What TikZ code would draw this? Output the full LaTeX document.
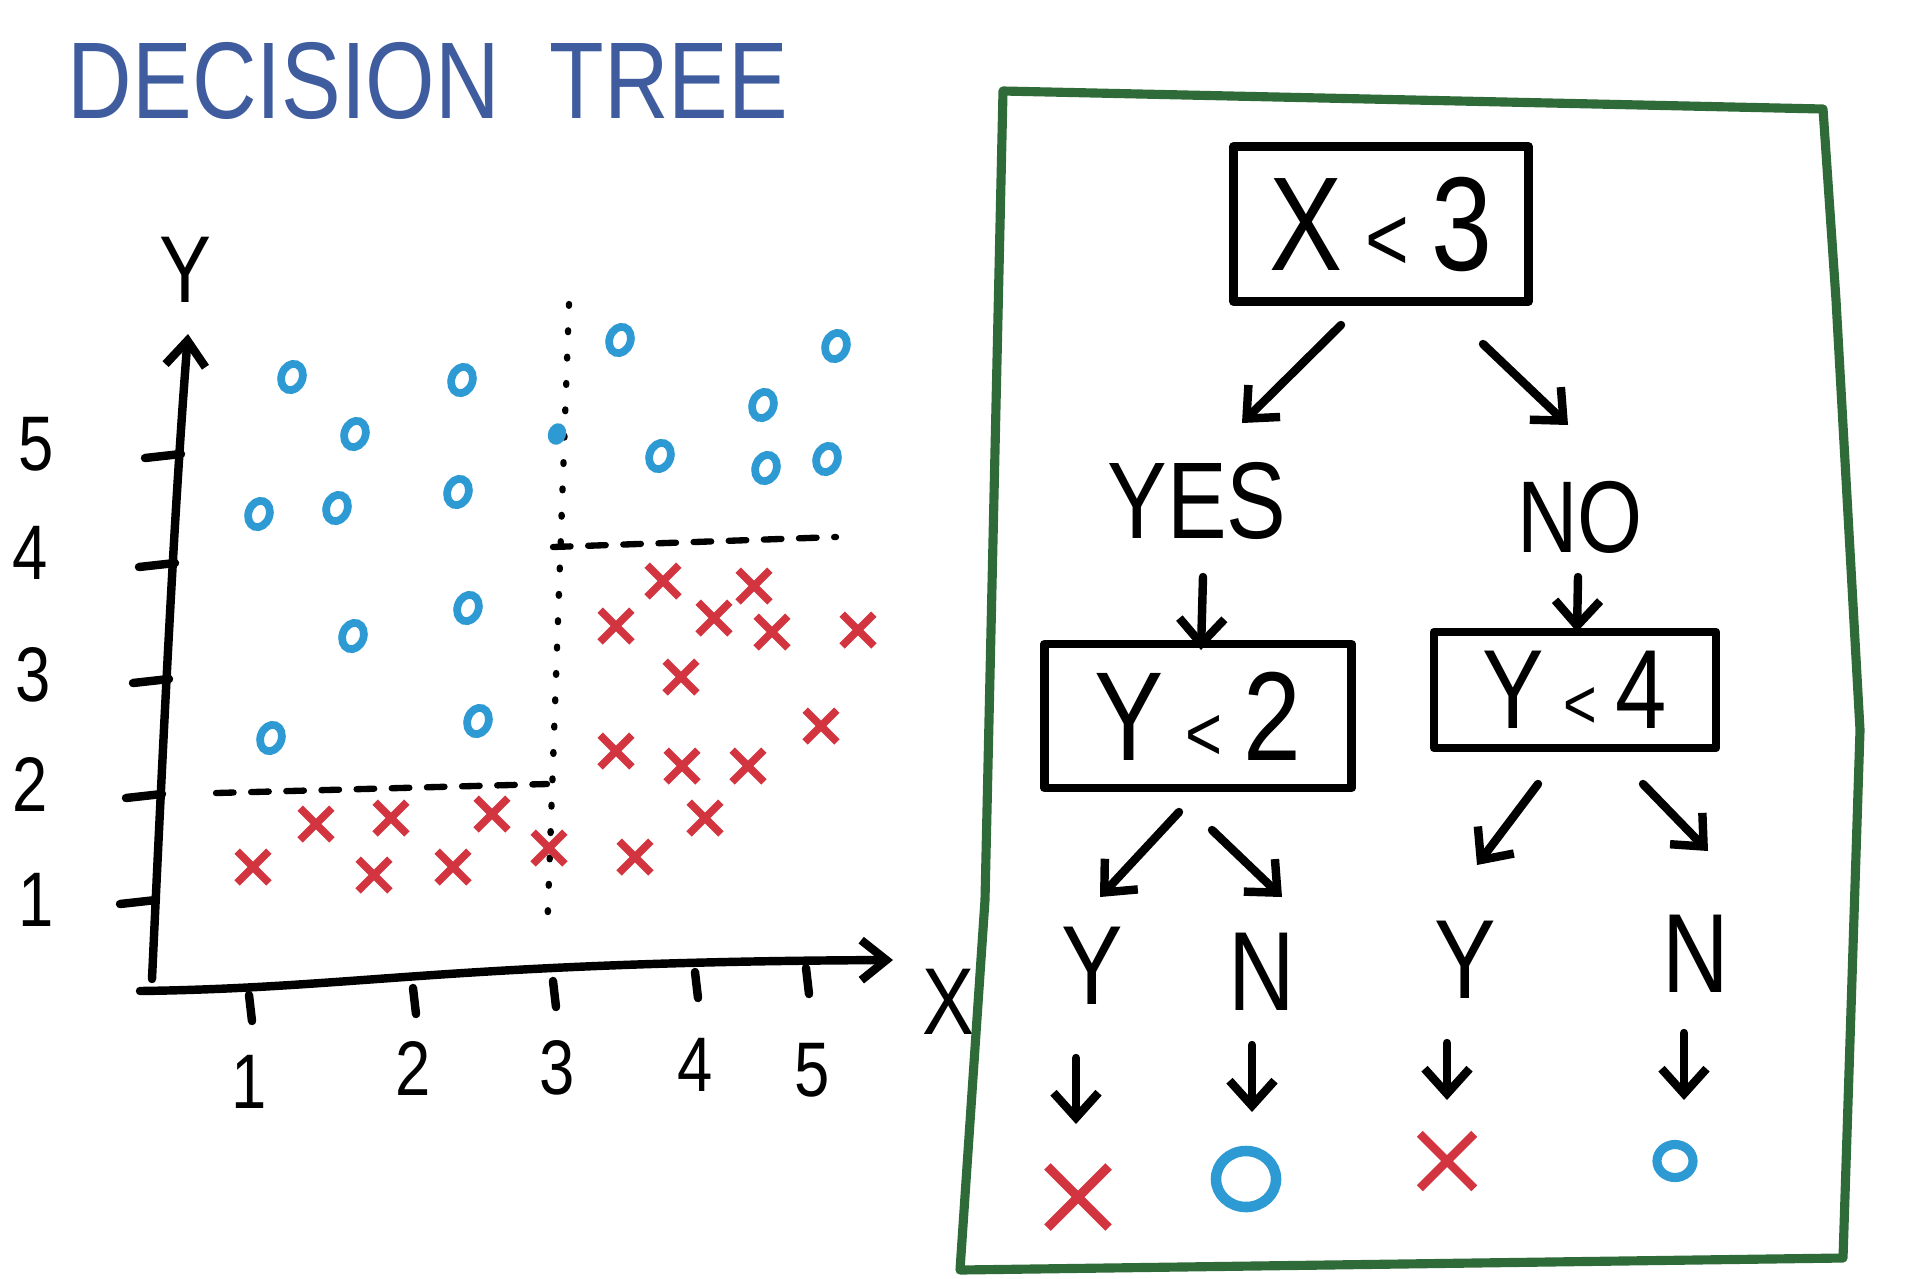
\documentclass[tikz,border=0pt]{standalone}
\usepackage{fontspec}
\setmainfont{Liberation Sans}[FakeStretch=0.82]
\usetikzlibrary{arrows.meta,positioning,calc,shapes.geometric,shapes.misc}
\definecolor{titleblue}{HTML}{3E5C9E}
\definecolor{oblue}{HTML}{2E9AD4}
\definecolor{xred}{HTML}{D23540}
\definecolor{framegreen}{HTML}{2F6B38}
\tikzset{%
  pen/.style={line width=2.4pt, line cap=round, line join=round},
  arrow/.style={pen, -{Straight Barb[length=2.5mm,width=4.5mm]}}%
}

\begin{document}
\begin{tikzpicture}[
    x=0.01cm, y=-0.01cm,
    ptO/.style={
        ellipse,
        draw=oblue,
        line width=2.2pt,
        minimum width=0.21cm,
        minimum height=0.27cm,
        inner sep=0pt,
        rotate=-20
    },
    ptX/.style={
        cross out,
        draw=xred,
        line width=2.2pt,
        minimum size=0.24cm,
        inner sep=0pt
    },
    testbox/.style={
        draw,
        pen,
        align=center,
        inner sep=0pt
    },
    word/.style={font=\fontsize{32}{32}\selectfont, inner sep=0pt},
    ticklabel/.style={font=\fontsize{22}{22}\selectfont, inner sep=0pt},
    cut/.style={line width=1.8pt, line cap=round}
]
\useasboundingbox (0,0) rectangle (1906,1278);

% Title
\node[text=titleblue, font=\fontsize{31}{31}\selectfont] (title) at (428,81) {DECISION \ TREE};

% Axes of the scatter plot
\draw[pen, -{Straight Barb[length=2.5mm,width=4mm]}] (152,979) .. controls (165,700) and (175,500) .. (188,334);
\draw[pen, -{Straight Barb[length=2.5mm,width=4mm]}] (140,991) .. controls (360,988) and (450,962) .. (893,960);
\node[font=\fontsize{27}{27}\selectfont] (ylabel) at (185,270) {Y};
\node[font=\fontsize{27}{27}\selectfont] (xlabel) at (948,1002) {X};

% Ticks and their labels
\foreach \ty/\tx/\v in {902/156/1, 796/162/2, 681/169/3, 565/175/4, 456/181/5}
  \draw[pen] (\tx-36,\ty+2) -- (\tx,\ty-2);
\foreach \tx/\ty/\v in {249/989/1, 413/982/2, 553/975/3, 695/966/4, 806/962/5}
  \draw[pen] (\tx,\ty+6) -- (\tx+3,\ty+32);
\node[ticklabel] (y1) at (36,900) {1};
\node[ticklabel] (y2) at (30,784) {2};
\node[ticklabel] (y3) at (33,675) {3};
\node[ticklabel] (y4) at (30,553) {4};
\node[ticklabel] (y5) at (36,444) {5};
\node[ticklabel] (x1) at (249,1082) {1};
\node[ticklabel] (x2) at (413,1068) {2};
\node[ticklabel] (x3) at (557,1068) {3};
\node[ticklabel] (x4) at (695,1065) {4};
\node[ticklabel] (x5) at (812,1070) {5};

% Split lines
\draw[cut, dash pattern=on 0.5pt off 7pt] (569,304) -- (547,936);
\draw[cut, dash pattern=on 5pt off 5pt] (553,547) -- (836,537);
\draw[cut, dash pattern=on 5pt off 5pt] (216,793) -- (547,784);

% Data: circles
\foreach \px/\py [count=\i] in {292/377, 462/380, 355/434, 259/514, 337/508, 458/492,
    353/636, 468/608, 271/738, 478/721, 620/340, 836/346, 763/405, 660/456,
    766/468, 827/459}
  \node[ptO] (o\i) at (\px,\py) {};
\node[ptO, minimum width=0.1cm, minimum height=0.14cm, fill=oblue] (o17) at (557,434) {};

% Data: crosses
\foreach \px/\py [count=\i] in {663/581, 754/586, 616/626, 714/618, 772/632, 858/630,
    681/677, 821/726, 616/751, 682/766, 748/766, 705/818, 635/857, 549/848,
    492/814, 391/818, 316/824, 253/867, 374/875, 453/867}
  \node[ptX] (x\i) at (\px,\py) {};

% Frame round the tree
\draw[framegreen, line width=2.6pt, line join=round]
  (1003,91) -- (1823,109) -- (1836,300) -- (1860,730) -- (1843,1258)
  -- (960,1270) -- (985,900) -- (1003,91) -- cycle;

% Tree nodes
\node[testbox, minimum width=2.95cm, minimum height=1.55cm,
      font=\fontsize{38}{38}\selectfont] (root) at (1381,224)
      {X\,{\fontsize{26}{26}\selectfont<}\,3};
\node[word, font=\fontsize{31}{31}\selectfont] (yes) at (1197,501) {YES};
\node[word, font=\fontsize{29}{29}\selectfont] (no) at (1580,517) {NO};
\node[testbox, minimum width=3.07cm, minimum height=1.44cm,
      font=\fontsize{36}{36}\selectfont] (ylt2) at (1198,716)
      {Y\,{\fontsize{22}{22}\selectfont<}\,2};
\node[testbox, minimum width=2.82cm, minimum height=1.16cm,
      font=\fontsize{32}{32}\selectfont] (ylt4) at (1575,690)
      {Y\,{\fontsize{20}{20}\selectfont<}\,4};
\node[word] (yy) at (1092,966) {Y};
\node[word] (yn) at (1262,972) {N};
\node[word] (ny) at (1465,960) {Y};
\node[word] (nn) at (1696,954) {N};

% Leaves
\node[ptX, minimum size=0.52cm, line width=2.6pt] (leafyy) at (1078,1197) {};
\node[ptO, minimum width=0.6cm, minimum height=0.56cm, line width=3pt, rotate=20] (leafyn) at (1246,1179) {};
\node[ptX, minimum size=0.46cm, line width=2.4pt] (leafny) at (1447,1161) {};
\node[ptO, minimum width=0.36cm, minimum height=0.33cm, line width=2.6pt, rotate=20] (leafnn) at (1675,1161) {};

% Arrows
\draw[arrow] ($(root)+(-40,101)$) -- ($(yes)+(45,-78)$);
\draw[arrow] ($(root)+(102,120)$) -- ($(no)+(-12,-92)$);
\draw[arrow] ($(yes)+(6,76)$) -- ($(ylt2)+(3,-66)$);
\draw[arrow] ($(no)+(-2,60)$) -- ($(ylt4)+(2,-58)$);
\draw[arrow] ($(ylt2)+(-19,96)$) -- ($(yy)+(8,-69)$);
\draw[arrow] ($(ylt2)+(14,114)$) -- ($(yn)+(20,-75)$);
\draw[arrow] ($(ylt4)+(-37,94)$) -- ($(ny)+(12,-95)$);
\draw[arrow] ($(ylt4)+(68,94)$) -- ($(nn)+(12,-103)$);
\draw[arrow] ($(yy)+(-16,92)$) -- ($(leafyy)+(-2,-73)$);
\draw[arrow] ($(yn)+(-10,73)$) -- ($(leafyn)+(6,-67)$);
\draw[arrow] ($(ny)+(-18,83)$) -- ($(leafny)+(0,-61)$);
\draw[arrow] ($(nn)+(-12,79)$) -- ($(leafnn)+(9,-61)$);

\end{tikzpicture}
\end{document}
